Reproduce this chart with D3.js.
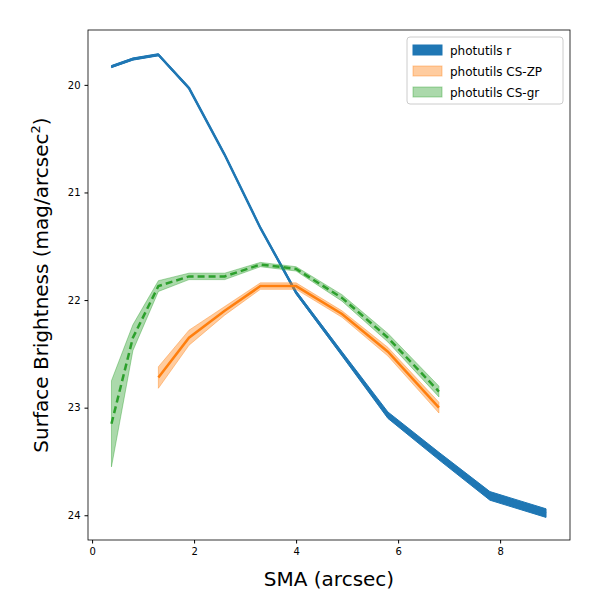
<!DOCTYPE html>
<html><head><meta charset="utf-8">
<script src="https://cdn.jsdelivr.net/npm/d3@7"></script>
<style>body{margin:0;background:#fff}text{font-family:"DejaVu Sans",sans-serif}</style>
</head><body><svg id="chart" width="600" height="600"></svg>
<script>
// SMA values (arcsec) and surface brightness profiles
const smaR = [0.38, 0.8, 1.3, 1.9, 2.6, 3.3, 4.0, 4.9, 5.8, 6.8, 7.8, 8.9];
const muR = [19.83, 19.76, 19.72, 20.03, 20.65, 21.33, 21.93, 22.5, 23.07, 23.45, 23.82, 23.98];
const errR = [0.01, 0.01, 0.01, 0.01, 0.01, 0.01, 0.015, 0.02, 0.03, 0.035, 0.04, 0.04];
const smaZP = [1.3, 1.9, 2.6, 3.3, 4.0, 4.9, 5.8, 6.8];
const muZP = [22.72, 22.35, 22.1, 21.87, 21.87, 22.13, 22.48, 23.0];
const errZP = [0.1, 0.07, 0.04, 0.03, 0.03, 0.03, 0.04, 0.05];
const smaGR = [0.38, 0.8, 1.3, 1.9, 2.6, 3.3, 4.0, 4.9, 5.8, 6.8];
const muGR = [23.15, 22.35, 21.87, 21.78, 21.78, 21.67, 21.71, 21.98, 22.35, 22.85];
const errGR = [0.4, 0.12, 0.05, 0.03, 0.03, 0.02, 0.02, 0.03, 0.04, 0.05];
const xTicks = [0, 2, 4, 6, 8];
const yTicks = [20, 21, 22, 23, 24];

const svg = d3.select("#chart");
const m = {l: 88, r: 570, t: 30, b: 540};
const x = d3.scaleLinear().domain([-0.08, 9.37]).range([m.l, m.r]);
const y = d3.scaleLinear().domain([19.49, 24.23]).range([m.t, m.b]);

function profile(sma, mu, err, col, bandOp, dash, lw) {
    const pts = sma.map((s, i) => ({s, m: mu[i], e: err[i]}));
    svg.append("path").datum(pts)
        .attr("d", d3.area().x(d => x(d.s)).y0(d => y(d.m - d.e)).y1(d => y(d.m + d.e)))
        .attr("fill", col).attr("fill-opacity", bandOp).attr("stroke", col).attr("stroke-opacity", bandOp);
    svg.append("path").datum(pts)
        .attr("d", d3.line().x(d => x(d.s)).y(d => y(d.m)))
        .attr("fill", "none").attr("stroke", col).attr("stroke-width", lw)
        .attr("stroke-dasharray", dash);
}
profile(smaR, muR, errR, "#1f77b4", 1, null, 2.5);
profile(smaZP, muZP, errZP, "#ff7f0e", 0.4, null, 2.5);
profile(smaGR, muGR, errGR, "#2ca02c", 0.4, "7,4", 2.5);

svg.append("rect").attr("x", m.l).attr("y", m.t).attr("width", m.r - m.l).attr("height", m.b - m.t)
    .attr("fill", "none").attr("stroke", "#000").attr("stroke-width", 0.8);
svg.append("g").attr("transform", `translate(0,${m.b})`)
    .call(d3.axisBottom(x).tickValues(xTicks).tickFormat(d3.format("d")).tickSize(3.5).tickPadding(4))
    .call(g => { g.select(".domain").remove(); g.selectAll("text").attr("font-size", 10).attr("fill", "#000"); });
svg.append("g").attr("transform", `translate(${m.l},0)`)
    .call(d3.axisLeft(y).tickValues(yTicks).tickFormat(d3.format("d")).tickSize(3.5).tickPadding(4))
    .call(g => { g.select(".domain").remove(); g.selectAll("text").attr("font-size", 10).attr("fill", "#000"); });

svg.append("text").attr("x", (m.l + m.r) / 2).attr("y", 586).attr("text-anchor", "middle")
    .attr("font-size", 20).text("SMA (arcsec)");
const yl = svg.append("text").attr("transform", `translate(48,${(m.t + m.b) / 2}) rotate(-90)`)
    .attr("text-anchor", "middle").attr("font-size", 20);
yl.append("tspan").text("Surface Brightness (mag/arcsec");
yl.append("tspan").attr("font-size", 13).attr("dy", -8).text("2");
yl.append("tspan").attr("dy", 8).text(")");

const legItems = [["photutils r", "#1f77b4", 1], ["photutils CS-ZP", "#ff7f0e", 0.4], ["photutils CS-gr", "#2ca02c", 0.4]];
const leg = svg.append("g").attr("transform", "translate(407,37)");
leg.append("rect").attr("width", 156).attr("height", 67).attr("rx", 3)
    .attr("fill", "#fff").attr("fill-opacity", 0.8).attr("stroke", "#ccc");
legItems.forEach((d, i) => {
    const g = leg.append("g").attr("transform", `translate(6,${8 + i * 21})`);
    g.append("rect").attr("width", 29).attr("height", 10).attr("fill", d[1]).attr("fill-opacity", d[2])
        .attr("stroke", d[1]).attr("stroke-opacity", d[2]);
    g.append("text").attr("x", 37).attr("y", 9.5).attr("font-size", 12).text(d[0]);
});
</script></body></html>
